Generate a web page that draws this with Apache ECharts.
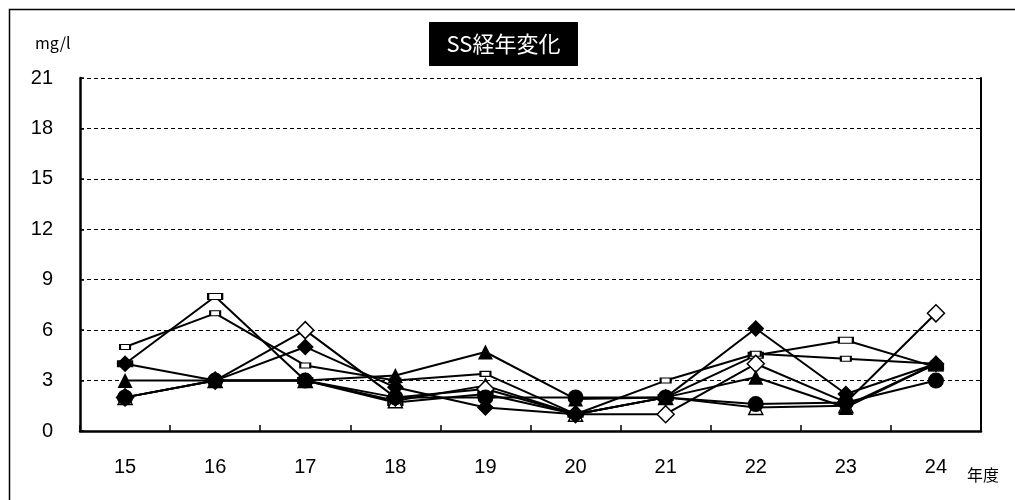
<!DOCTYPE html>
<html>
<head>
<meta charset="utf-8">
<script src="https://cdn.jsdelivr.net/npm/echarts@6/dist/echarts.min.js"></script>
<style>
html,body{margin:0;padding:0;background:#fff;}
#chart{width:1015px;height:500px;}
</style>
</head>
<body>
<div id="chart"></div>
<script>
const years = ['15','16','17','18','19','20','21','22','23','24'];
const yTicks = [0, 3, 6, 9, 12, 15, 18, 21];
const seriesNames = ['A','B','C','D','E','F','G'];
const sOpenDiamond   = [2, 3, 6, 2, 2.5, 1, 1, 4, 1.7, 7];
const sFillDiamond   = [4, 3, 5, 2.6, 1.4, 1, 2, 6.1, 2.2, 4];
const sFillTriangle  = [3, 3, 3, 3.3, 4.7, 1.9, 2, 3.2, 1.4, 4];
const sFillCircle    = [2, 3, 3, 2, 2, 2, 2, 1.6, 1.7, 3];
const sWideRect      = [4, 8, 3, 1.7, 2.2, 1, 2, 4.5, 5.4, 3.8];
const sSmallRect     = [5, 7, 3.9, 3, 3.4, 1, 3, 4.6, 4.3, 4];
const sOpenTriangle  = [2, 3, 3, 1.8, 2.7, 1, 2, 1.4, 1.5, 4];

const chart = echarts.init(document.getElementById('chart'));
const FONT = 'Liberation Sans';
function mk(name, data, symbol, size, filled, z) {
  return {
    name: name, type: 'line', data: data, symbol: symbol, symbolSize: size,
    showSymbol: true, animation: false, z: z,
    lineStyle: {color: '#000', width: 2},
    itemStyle: {color: filled ? '#000' : '#fff', borderColor: '#000', borderWidth: filled ? 0 : 1.5, opacity: 1},
    emphasis: {disabled: true}
  };
}
chart.setOption({
  animation: false,
  backgroundColor: '#fff',
  grid: {left: 80, right: 34, top: 78, bottom: 69, containLabel: false},
  xAxis: {
    type: 'category', data: years, boundaryGap: true,
    axisLine: {lineStyle: {color: '#000', width: 2.5}},
    axisTick: {show: true, inside: true, length: 6, lineStyle: {color: '#000', width: 1.5}},
    axisLabel: {fontFamily: FONT, fontSize: 20, color: '#000', margin: 26}
  },
  yAxis: [{
    type: 'value', min: yTicks[0], max: yTicks[yTicks.length - 1], interval: 3,
    axisLine: {show: true, lineStyle: {color: '#000', width: 2.5}},
    axisTick: {show: true, inside: true, length: 4, lineStyle: {color: '#000', width: 1.5}},
    axisLabel: {fontFamily: FONT, fontSize: 20, color: '#000', margin: 27},
    splitLine: {show: true, lineStyle: {color: '#000', type: [4, 3], width: 1.2}}
  }, {
    type: 'value', min: yTicks[0], max: yTicks[yTicks.length - 1], interval: 3, position: 'right',
    axisLine: {show: true, lineStyle: {color: '#000', width: 2}},
    axisTick: {show: false}, axisLabel: {show: false}, splitLine: {show: false}
  }],
  graphic: [
    {type: 'rect', left: 7, top: 7, shape: {width: 1100, height: 600},
     style: {fill: 'none', stroke: '#000', lineWidth: 1.5}, z: -1, silent: true},
    {type: 'text', left: 35, top: 35, style: {text: 'mg/l', font: '16px "Noto Sans CJK JP"', fill: '#000'}},
    {type: 'text', left: 967, top: 467, style: {text: '年度', font: '16px "Noto Sans CJK JP"', fill: '#000'}},
    {type: 'group', left: 429, top: 22, children: [
      {type: 'rect', shape: {x: 0, y: 0, width: 149, height: 44}, style: {fill: '#000'}},
      {type: 'text', x: 74.5, y: 22, style: {text: 'SS経年変化', font: '22px "Noto Sans CJK JP"', fill: '#fff', align: 'center', verticalAlign: 'middle'}}
    ]}
  ],
  series: [
    mk(seriesNames[4], sWideRect, 'rect', [14, 6], false, 2),
    mk(seriesNames[5], sSmallRect, 'rect', [10, 5], false, 2),
    mk(seriesNames[6], sOpenTriangle, 'triangle', 14, false, 3),
    mk(seriesNames[0], sOpenDiamond, 'diamond', 17, false, 3),
    mk(seriesNames[2], sFillTriangle, 'triangle', 15, true, 4),
    mk(seriesNames[3], sFillCircle, 'circle', 16, true, 4),
    mk(seriesNames[1], sFillDiamond, 'diamond', 17, true, 5)
  ]
});
</script>
</body>
</html>
